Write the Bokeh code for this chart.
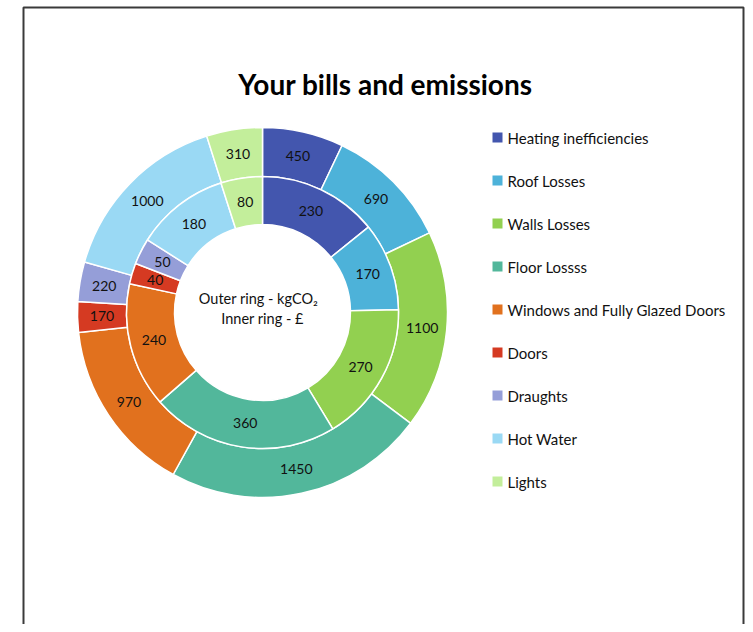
import math
from bokeh.plotting import figure
from bokeh.models import ColumnDataSource, Range1d
from bokeh.core.properties import value
from bokeh.embed import file_html
from bokeh.resources import INLINE

# ---- data ----
categories = ["Heating inefficiencies", "Roof Losses", "Walls Losses", "Floor Lossss",
              "Windows and Fully Glazed Doors", "Doors", "Draughts", "Hot Water", "Lights"]
outer_kgco2 = [450, 690, 1100, 1450, 970, 170, 220, 1000, 310]
inner_gbp = [230, 170, 270, 360, 240, 40, 50, 180, 80]
colors = ["#4356AE", "#4DB2D9", "#92D050", "#52B79B", "#E1711E",
          "#D53A22", "#959ED8", "#9AD9F4", "#C3EE9B"]
title_text = "Your bills and emissions"
center_lines = ["Outer ring - kgCO\u2082", "Inner ring - \u00a3"]

W, H = 745, 624
FONT = "Lato"

p = figure(width=W, height=H, output_backend="svg", toolbar_location=None,
           x_range=Range1d(0, W), y_range=Range1d(0, H), min_border=0)
p.axis.visible = False
p.grid.visible = False
p.outline_line_color = None
p.background_fill_color = "white"
p.border_fill_color = "white"

# screen pixel -> data helpers
def X(px):
    return px
def Y(py):
    return H - py

cx, cy = X(262), Y(312)

def ring(vals, r_in, r_out):
    total = float(sum(vals))
    starts, ends, lx, ly, labs = [], [], [], [], []
    cum = 0.0
    rm = (r_in + r_out) / 2
    for v in vals:
        a0 = 2 * math.pi * cum / total
        cum += v
        a1 = 2 * math.pi * cum / total
        starts.append(math.pi / 2 - a1)
        ends.append(math.pi / 2 - a0)
        am = (a0 + a1) / 2
        lx.append(cx + rm * math.sin(am))
        ly.append(cy + rm * math.cos(am))
        labs.append(str(v))
    return ColumnDataSource(dict(x=[cx] * len(vals), y=[cy] * len(vals),
                                 start=starts, end=ends, color=colors,
                                 lx=lx, ly=ly, lab=labs))

r_hole, r_mid, r_outer = 88, 136, 185
src_out = ring(outer_kgco2, r_mid, r_outer)
src_in = ring(inner_gbp, r_hole, r_mid)

for src, ri, ro in [(src_out, r_mid, r_outer), (src_in, r_hole, r_mid)]:
    p.annular_wedge(x="x", y="y", inner_radius=ri, outer_radius=ro,
                    start_angle="start", end_angle="end", source=src,
                    fill_color="color", line_color="white", line_width=1.5)
    p.text(x="lx", y="ly", text="lab", source=src, text_font=value(FONT),
           text_font_size="14px", text_align="center", text_baseline="middle",
           text_color="#111111")

# center text
p.text(x=[X(258), X(262)], y=[Y(298), Y(318)], text=center_lines,
       text_font=value(FONT), text_font_size="14.5px", text_align="center",
       text_baseline="middle", text_color="#111111")

# title
p.text(x=[X(385)], y=[Y(83)], text=[title_text], text_font=value(FONT),
       text_font_size="28px", text_font_style="bold", text_align="center",
       text_baseline="middle", text_color="#000000")

# legend
leg_y = [Y(137 + i * 43) for i in range(len(categories))]
leg = ColumnDataSource(dict(sx=[X(497)] * len(categories), tx=[X(507)] * len(categories),
                            y=leg_y, name=categories, color=colors))
p.rect(x="sx", y="y", width=10, height=10, source=leg, fill_color="color",
       line_color=None)
p.text(x="tx", y="y", text="name", source=leg, text_font=value(FONT),
       text_font_size="15px", text_align="left", text_baseline="middle",
       text_color="#111111")

# chart border (decoration)
p.line(x=[X(23), X(23), X(743), X(743)], y=[-5, Y(7), Y(7), -5],
       line_color="#3a3a3a", line_width=2)

open("out.html", "w").write(file_html(p, INLINE))
